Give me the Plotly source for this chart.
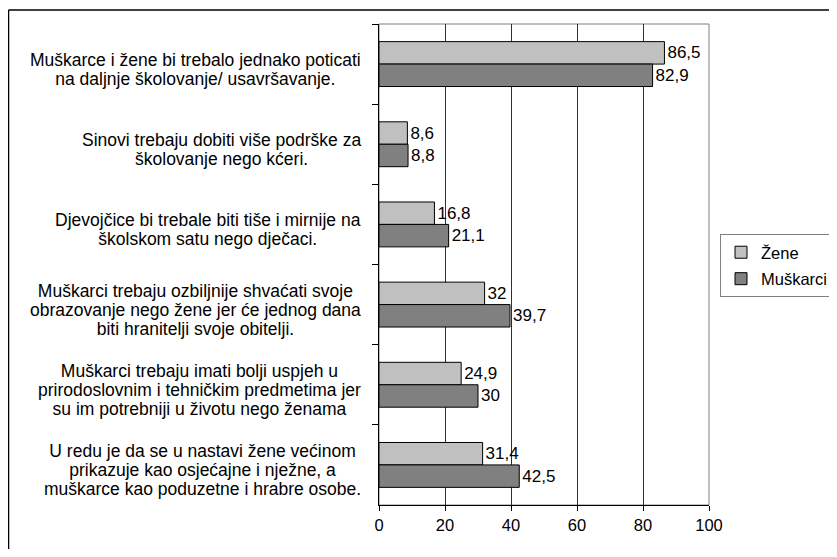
import plotly.graph_objects as go

categories = [
    "Muškarce i žene bi trebalo jednako poticati<br>na daljnje školovanje/ usavršavanje.",
    "Sinovi trebaju dobiti više podrške za<br>školovanje nego kćeri.",
    "Djevojčice bi trebale biti tiše i mirnije na<br>školskom satu nego dječaci.",
    "Muškarci trebaju ozbiljnije shvaćati svoje<br>obrazovanje nego žene jer će jednog dana<br>biti hranitelji svoje obitelji.",
    "Muškarci trebaju imati bolji uspjeh u<br>prirodoslovnim i tehničkim predmetima jer<br>su im potrebniji u životu nego ženama",
    "U redu je da se u nastavi žene većinom<br>prikazuje kao osjećajne i nježne, a<br>muškarce kao poduzetne i hrabre osobe.",
]
zene = [86.5, 8.6, 16.8, 32, 24.9, 31.4]
muskarci = [82.9, 8.8, 21.1, 39.7, 30, 42.5]
series_names = ["Žene", "Muškarci"]
x_ticks = [0, 20, 40, 60, 80, 100]

FONT = "Liberation Sans, Arial, sans-serif"
FS = 16.5
FS_LABEL = 17.5
FS_LINE = 14.6  # controls line spacing of category labels (1.3 * 14.6 ~ 19px)

# figure is 16px smaller than the window to absorb the page's 8px body margin
W, H = 821, 541
L, R, T, B = 371, 120, 16, 44
PW, PH = W - L - R, H - T - B


def fmt(v):
    return f"{v:g}".replace(".", ",")


fig = go.Figure()
for i, (name, vals, color) in enumerate([(series_names[0], zene, "#C0C0C0"),
                                         (series_names[1], muskarci, "#808080")]):
    fig.add_trace(go.Bar(
        y=categories, x=vals, orientation="h", name=name, legendgroup=f"g{i}",
        marker=dict(color=color, line=dict(color="black", width=1)),
        text=[fmt(v) for v in vals], textposition="outside",
        textfont=dict(family=FONT, size=17, color="black"),
        constraintext="none", cliponaxis=False,
    ))

for c in categories:
    label = "<br>".join(
        f'<span style="font-size:{FS_LABEL}px">{line}</span>' for line in c.split("<br>")
    )
    fig.add_annotation(
        x=-16 / PW, xref="paper", y=c, yref="y",
        text=label, showarrow=False, xanchor="right", align="center",
        yshift=-5, font=dict(family=FONT, size=FS_LINE, color="black"),
    )

fig.update_layout(
    width=W, height=H,
    margin=dict(l=L, r=R, t=T, b=B, autoexpand=False),
    paper_bgcolor="white", plot_bgcolor="white",
    barmode="group", bargap=0.44, bargroupgap=0,
    font=dict(family=FONT, size=FS, color="black"),
    legend=dict(
        x=(712 - L) / PW, y=1 - (226 - T) / PH, xanchor="left", yanchor="top",
        bordercolor="#808080", borderwidth=1,
        font=dict(family=FONT, size=FS, color="black"),
        itemwidth=30, traceorder="grouped", tracegroupgap=2,
    ),
    xaxis=dict(
        range=[0, 100], tickvals=x_ticks, ticktext=[str(t) for t in x_ticks],
        showgrid=True, gridcolor="#303030", gridwidth=1,
        showline=True, linecolor="black", linewidth=1,
        ticks="outside", ticklen=5, tickcolor="black",
        tickfont=dict(family=FONT, size=FS, color="black"),
        zeroline=False, fixedrange=True,
    ),
    yaxis=dict(
        autorange="reversed", showticklabels=False,
        showline=True, linecolor="black", linewidth=1,
        ticks="outside", ticklen=6, tickcolor="black", tickson="boundaries",
        showgrid=False, zeroline=False,
    ),
    shapes=[
        dict(type="rect", xref="paper", yref="paper", x0=0, x1=1, y0=0, y1=1,
             line=dict(color="#808080", width=1), layer="below"),
        dict(type="line", xref="paper", yref="paper",
             x0=(0.5 - L) / PW, x1=(W - L) / PW,
             y0=1 + (T - 2) / PH, y1=1 + (T - 2) / PH,
             line=dict(color="black", width=1.5)),
        dict(type="line", xref="paper", yref="paper",
             x0=(0.5 - L) / PW, x1=(0.5 - L) / PW,
             y0=1 + (T - 2) / PH, y1=-B / PH,
             line=dict(color="black", width=1.5)),
    ],
)

fig.write_html("out.html")
